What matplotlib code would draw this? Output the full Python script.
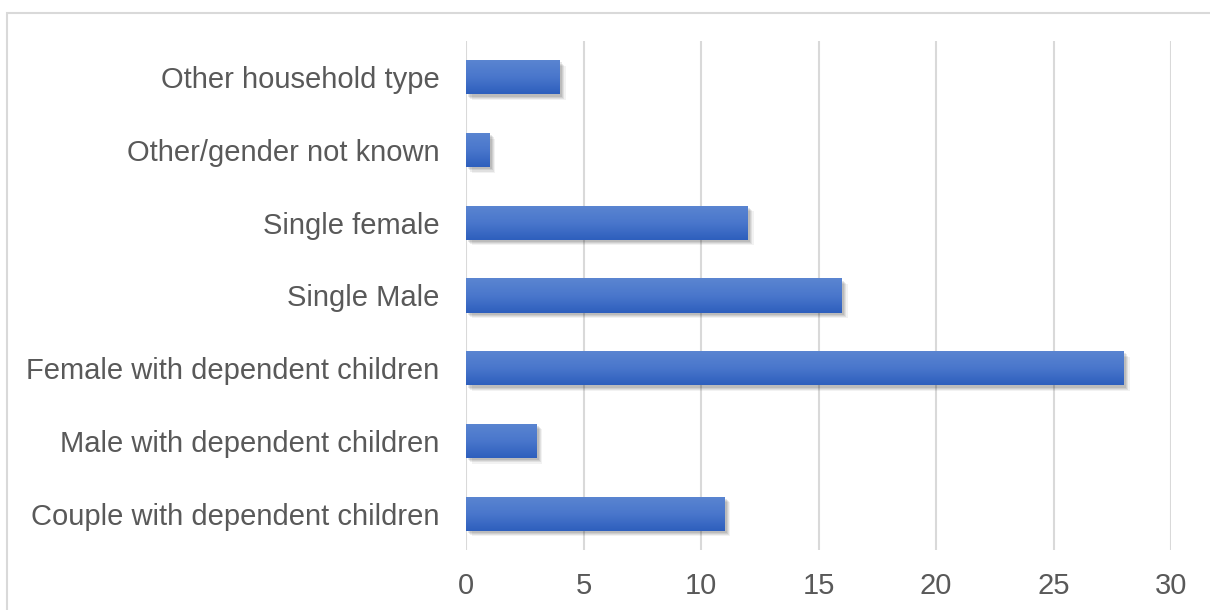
import matplotlib
matplotlib.use("Agg")
import matplotlib.pyplot as plt
import numpy as np
from matplotlib.patches import Rectangle
from matplotlib.colors import LinearSegmentedColormap
import matplotlib.patheffects as pe

categories = [
    "Couple with dependent children",
    "Male with dependent children",
    "Female with dependent children",
    "Single Male",
    "Single female",
    "Other/gender not known",
    "Other household type",
]
values = [11, 3, 28, 16, 12, 1, 4]
xticks = [0, 5, 10, 15, 20, 25, 30]

plt.rcParams['font.family'] = ['Liberation Sans', 'DejaVu Sans']

fig = plt.figure(figsize=(12.1, 6.1), dpi=100)
ax = fig.add_axes([466/1210, 1-550/610, (1171-466)/1210, (550-41)/610])

# figure frame (partially visible: left and top edges)
top = 1 - 13/610
fig.patches.append(Rectangle((7/1210, -0.1), 1.2, top + 0.1,
                             transform=fig.transFigure, fill=False,
                             edgecolor='#d9d9d9', linewidth=1.5))

y = np.arange(len(categories))
shadows = [pe.SimplePatchShadow(offset=(o, -o), shadow_rgbFace='#000000', alpha=a)
           for o, a in [(4, 0.05), (3.2, 0.07), (2.4, 0.08), (1.6, 0.09)]]
bars = ax.barh(y, values, height=0.47, color='#4472c4', zorder=3,
               path_effects=shadows + [pe.Normal()])

cmap = LinearSegmentedColormap.from_list('g', ['#2e5fbd', '#4a77cc', '#5b85d1'])
grad = np.linspace(0, 1, 64).reshape(-1, 1)
for b in bars:
    x0, y0 = b.get_x(), b.get_y()
    w, h = b.get_width(), b.get_height()
    im = ax.imshow(grad, cmap=cmap, aspect='auto', origin='lower',
                   extent=[x0, x0 + w, y0, y0 + h], zorder=4, interpolation='bilinear')
    im.set_clip_path(b)

ax.set_xlim(0, 30)
ax.set_ylim(-0.5, len(categories) - 0.5)
ax.set_xticks(xticks)
ax.set_xticklabels([str(t) for t in xticks])
ax.set_yticks(y)
ax.set_yticklabels(categories)
ax.xaxis.grid(True, color='#d9d9d9', linewidth=1.5, zorder=0)
ax.set_axisbelow(True)
for s in ax.spines.values():
    s.set_visible(False)
ax.tick_params(axis='both', length=0, labelsize=21, labelcolor='#595959')
ax.tick_params(axis='x', pad=16)
ax.tick_params(axis='y', pad=19)

fig.savefig('out.png', dpi=100)
